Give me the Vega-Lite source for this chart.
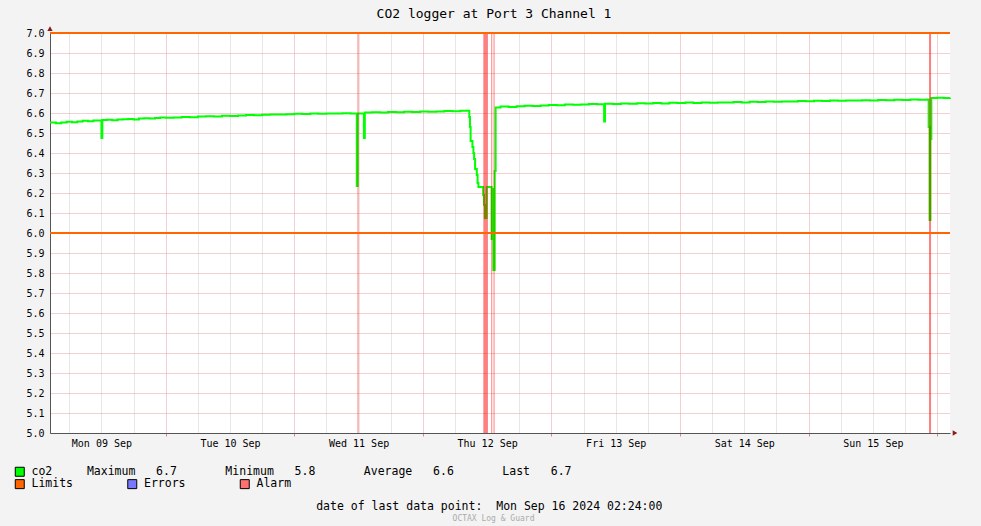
{
  "$schema": "https://vega.github.io/schema/vega-lite/v6.json",
  "width": 900,
  "height": 400,
  "autosize": {"type": "none"},
  "padding": {"left": 50, "top": 33, "right": 31, "bottom": 93},
  "background": "#f3f3f3",
  "title": {"text": "CO2 logger at Port 3 Channel 1", "font": "DejaVu Sans Mono", "fontSize": 13, "fontWeight": "normal", "color": "black", "anchor": "middle", "dx": -6, "offset": -5, "baseline": "alphabetic"},
  "datasets": {
    "co2": [
      {"t": "2024-09-09T02:24:00Z", "v": 6.552}, {"t": "2024-09-09T03:30:00Z", "v": 6.549}, {"t": "2024-09-09T04:30:00Z", "v": 6.553},
      {"t": "2024-09-09T05:30:00Z", "v": 6.556}, {"t": "2024-09-09T06:30:00Z", "v": 6.554}, {"t": "2024-09-09T07:30:00Z", "v": 6.558},
      {"t": "2024-09-09T08:30:00Z", "v": 6.561}, {"t": "2024-09-09T09:30:00Z", "v": 6.559}, {"t": "2024-09-09T10:30:00Z", "v": 6.562},
      {"t": "2024-09-09T11:30:00Z", "v": 6.563}, {"t": "2024-09-09T12:00:00Z", "v": 6.475}, {"t": "2024-09-09T12:10:00Z", "v": 6.565},
      {"t": "2024-09-09T13:00:00Z", "v": 6.566}, {"t": "2024-09-09T14:00:00Z", "v": 6.564}, {"t": "2024-09-09T15:00:00Z", "v": 6.567},
      {"t": "2024-09-09T16:00:00Z", "v": 6.569}, {"t": "2024-09-09T17:00:00Z", "v": 6.570}, {"t": "2024-09-09T18:00:00Z", "v": 6.568},
      {"t": "2024-09-09T19:00:00Z", "v": 6.572}, {"t": "2024-09-09T20:00:00Z", "v": 6.574}, {"t": "2024-09-09T21:00:00Z", "v": 6.573},
      {"t": "2024-09-09T22:00:00Z", "v": 6.575}, {"t": "2024-09-09T23:00:00Z", "v": 6.577},
      {"t": "2024-09-10T00:00:00Z", "v": 6.576}, {"t": "2024-09-10T01:30:00Z", "v": 6.578}, {"t": "2024-09-10T03:00:00Z", "v": 6.580},
      {"t": "2024-09-10T04:30:00Z", "v": 6.579}, {"t": "2024-09-10T06:00:00Z", "v": 6.582}, {"t": "2024-09-10T07:30:00Z", "v": 6.584},
      {"t": "2024-09-10T09:00:00Z", "v": 6.583}, {"t": "2024-09-10T10:30:00Z", "v": 6.586}, {"t": "2024-09-10T12:00:00Z", "v": 6.585},
      {"t": "2024-09-10T13:30:00Z", "v": 6.588}, {"t": "2024-09-10T15:00:00Z", "v": 6.590}, {"t": "2024-09-10T16:30:00Z", "v": 6.589},
      {"t": "2024-09-10T18:00:00Z", "v": 6.591}, {"t": "2024-09-10T19:30:00Z", "v": 6.593}, {"t": "2024-09-10T21:00:00Z", "v": 6.592},
      {"t": "2024-09-10T22:30:00Z", "v": 6.594},
      {"t": "2024-09-11T00:00:00Z", "v": 6.596}, {"t": "2024-09-11T01:30:00Z", "v": 6.595}, {"t": "2024-09-11T03:00:00Z", "v": 6.597},
      {"t": "2024-09-11T04:30:00Z", "v": 6.596}, {"t": "2024-09-11T06:00:00Z", "v": 6.598}, {"t": "2024-09-11T07:30:00Z", "v": 6.597},
      {"t": "2024-09-11T09:00:00Z", "v": 6.599}, {"t": "2024-09-11T10:30:00Z", "v": 6.598}, {"t": "2024-09-11T11:40:00Z", "v": 6.235},
      {"t": "2024-09-11T11:50:00Z", "v": 6.597}, {"t": "2024-09-11T13:00:00Z", "v": 6.475}, {"t": "2024-09-11T13:10:00Z", "v": 6.603},
      {"t": "2024-09-11T14:30:00Z", "v": 6.604}, {"t": "2024-09-11T16:00:00Z", "v": 6.602}, {"t": "2024-09-11T17:30:00Z", "v": 6.605},
      {"t": "2024-09-11T19:00:00Z", "v": 6.604}, {"t": "2024-09-11T20:30:00Z", "v": 6.606}, {"t": "2024-09-11T22:00:00Z", "v": 6.605},
      {"t": "2024-09-11T23:30:00Z", "v": 6.607},
      {"t": "2024-09-12T01:00:00Z", "v": 6.606}, {"t": "2024-09-12T02:30:00Z", "v": 6.608}, {"t": "2024-09-12T04:00:00Z", "v": 6.610},
      {"t": "2024-09-12T05:30:00Z", "v": 6.609}, {"t": "2024-09-12T07:00:00Z", "v": 6.611}, {"t": "2024-09-12T08:40:00Z", "v": 6.58},
      {"t": "2024-09-12T08:48:00Z", "v": 6.53}, {"t": "2024-09-12T08:55:00Z", "v": 6.46}, {"t": "2024-09-12T09:15:00Z", "v": 6.43},
      {"t": "2024-09-12T09:26:00Z", "v": 6.40}, {"t": "2024-09-12T09:34:00Z", "v": 6.37}, {"t": "2024-09-12T09:45:00Z", "v": 6.32},
      {"t": "2024-09-12T10:04:00Z", "v": 6.29}, {"t": "2024-09-12T10:13:00Z", "v": 6.25}, {"t": "2024-09-12T10:22:00Z", "v": 6.23},
      {"t": "2024-09-12T11:15:00Z", "v": 6.19}, {"t": "2024-09-12T11:25:00Z", "v": 6.14}, {"t": "2024-09-12T11:35:00Z", "v": 6.075},
      {"t": "2024-09-12T11:55:00Z", "v": 6.23}, {"t": "2024-09-12T12:50:00Z", "v": 5.97}, {"t": "2024-09-12T13:00:00Z", "v": 6.22},
      {"t": "2024-09-12T13:10:00Z", "v": 5.815}, {"t": "2024-09-12T13:25:00Z", "v": 6.31}, {"t": "2024-09-12T13:35:00Z", "v": 6.628},
      {"t": "2024-09-12T14:30:00Z", "v": 6.632}, {"t": "2024-09-12T16:00:00Z", "v": 6.630}, {"t": "2024-09-12T17:30:00Z", "v": 6.634},
      {"t": "2024-09-12T19:00:00Z", "v": 6.636}, {"t": "2024-09-12T20:30:00Z", "v": 6.635}, {"t": "2024-09-12T22:00:00Z", "v": 6.638},
      {"t": "2024-09-12T23:30:00Z", "v": 6.640},
      {"t": "2024-09-13T01:00:00Z", "v": 6.639}, {"t": "2024-09-13T02:30:00Z", "v": 6.642}, {"t": "2024-09-13T04:00:00Z", "v": 6.641},
      {"t": "2024-09-13T05:30:00Z", "v": 6.643}, {"t": "2024-09-13T07:00:00Z", "v": 6.645}, {"t": "2024-09-13T08:30:00Z", "v": 6.644},
      {"t": "2024-09-13T09:50:00Z", "v": 6.557}, {"t": "2024-09-13T10:00:00Z", "v": 6.646}, {"t": "2024-09-13T11:30:00Z", "v": 6.645},
      {"t": "2024-09-13T13:00:00Z", "v": 6.648}, {"t": "2024-09-13T14:30:00Z", "v": 6.646}, {"t": "2024-09-13T16:00:00Z", "v": 6.649},
      {"t": "2024-09-13T17:30:00Z", "v": 6.648}, {"t": "2024-09-13T19:00:00Z", "v": 6.650}, {"t": "2024-09-13T20:30:00Z", "v": 6.648},
      {"t": "2024-09-13T22:00:00Z", "v": 6.651}, {"t": "2024-09-13T23:30:00Z", "v": 6.650},
      {"t": "2024-09-14T01:00:00Z", "v": 6.652}, {"t": "2024-09-14T02:30:00Z", "v": 6.650}, {"t": "2024-09-14T04:00:00Z", "v": 6.652},
      {"t": "2024-09-14T05:30:00Z", "v": 6.651}, {"t": "2024-09-14T07:00:00Z", "v": 6.653}, {"t": "2024-09-14T08:30:00Z", "v": 6.652},
      {"t": "2024-09-14T10:00:00Z", "v": 6.655}, {"t": "2024-09-14T11:30:00Z", "v": 6.653}, {"t": "2024-09-14T13:00:00Z", "v": 6.656},
      {"t": "2024-09-14T14:30:00Z", "v": 6.655}, {"t": "2024-09-14T16:00:00Z", "v": 6.657}, {"t": "2024-09-14T17:30:00Z", "v": 6.656},
      {"t": "2024-09-14T19:00:00Z", "v": 6.658}, {"t": "2024-09-14T20:30:00Z", "v": 6.657}, {"t": "2024-09-14T22:00:00Z", "v": 6.660},
      {"t": "2024-09-14T23:30:00Z", "v": 6.659},
      {"t": "2024-09-15T01:00:00Z", "v": 6.661}, {"t": "2024-09-15T02:30:00Z", "v": 6.660}, {"t": "2024-09-15T04:00:00Z", "v": 6.662},
      {"t": "2024-09-15T05:30:00Z", "v": 6.661}, {"t": "2024-09-15T07:00:00Z", "v": 6.663}, {"t": "2024-09-15T08:30:00Z", "v": 6.662},
      {"t": "2024-09-15T10:00:00Z", "v": 6.664}, {"t": "2024-09-15T11:30:00Z", "v": 6.663}, {"t": "2024-09-15T13:00:00Z", "v": 6.665},
      {"t": "2024-09-15T14:30:00Z", "v": 6.664}, {"t": "2024-09-15T16:00:00Z", "v": 6.666}, {"t": "2024-09-15T17:30:00Z", "v": 6.665},
      {"t": "2024-09-15T19:00:00Z", "v": 6.667}, {"t": "2024-09-15T20:30:00Z", "v": 6.666}, {"t": "2024-09-15T22:15:00Z", "v": 6.668},
      {"t": "2024-09-15T22:25:00Z", "v": 6.53}, {"t": "2024-09-15T22:35:00Z", "v": 6.065}, {"t": "2024-09-15T22:45:00Z", "v": 6.47},
      {"t": "2024-09-15T22:55:00Z", "v": 6.675},
      {"t": "2024-09-16T00:00:00Z", "v": 6.676}, {"t": "2024-09-16T01:15:00Z", "v": 6.675}, {"t": "2024-09-16T02:24:00Z", "v": 6.676}
    ],
    "alarm": [
      {"t": "2024-09-11T11:48:00Z", "t2": "2024-09-11T12:00:00Z", "v": 5, "v2": 7},
      {"t": "2024-09-12T11:17:00Z", "t2": "2024-09-12T12:07:00Z", "v": 5, "v2": 7},
      {"t": "2024-09-12T12:46:00Z", "t2": "2024-09-12T12:57:00Z", "v": 5, "v2": 7},
      {"t": "2024-09-12T13:12:00Z", "t2": "2024-09-12T13:23:00Z", "v": 5, "v2": 7},
      {"t": "2024-09-15T22:29:00Z", "t2": "2024-09-15T22:52:00Z", "v": 5, "v2": 7}
    ],
    "limits": [
      {"t": "2024-09-09T02:24:00Z", "t2": "2024-09-16T02:24:00Z", "v": 6.0},
      {"t": "2024-09-09T02:24:00Z", "t2": "2024-09-16T02:24:00Z", "v": 7.0}
    ],
    "yarrow": [{"t": "2024-09-09T02:24:00Z", "v": 7.022}],
    "xarrow": [{"t": "2024-09-16T03:20:00Z", "v": 5.0}]
  },
  "encoding": {
    "x": {
      "field": "t", "type": "temporal",
      "scale": {"type": "utc", "domain": [1725848640000, 1726453440000]},
      "axis": {
        "values": [1725861600000, 1725883200000, 1725904800000, 1725926400000, 1725948000000, 1725969600000, 1725991200000, 1726012800000, 1726034400000, 1726056000000, 1726077600000, 1726099200000, 1726120800000, 1726142400000, 1726164000000, 1726185600000, 1726207200000, 1726228800000, 1726250400000, 1726272000000, 1726293600000, 1726315200000, 1726336800000, 1726358400000, 1726380000000, 1726401600000, 1726423200000, 1726444800000],
        "labelExpr": "utchours(datum.value) == 12 ? utcFormat(datum.value, '%a %d %b') : ''",
        "labelOverlap": false,
        "labelBound": false,
        "labelFlush": false,
        "labelFont": "DejaVu Sans Mono", "labelFontSize": 10, "labelColor": "black", "labelPadding": 2,
        "tickSize": 3,
        "tickColor": {"condition": {"test": "utchours(datum.value) == 0", "value": "#dd8888"}, "value": "rgba(0,0,0,0)"},
        "grid": true,
        "gridColor": {"condition": {"test": "utchours(datum.value) == 0", "value": "#e3a3a3"}, "value": "#cfcfcf"},
        "gridDash": [1, 1],
        "domainColor": "#555555",
        "title": "date of last data point:\u00a0\u00a0Mon Sep 16 2024 02:24:00",
        "titleFont": "DejaVu Sans Mono", "titleFontSize": 11.5, "titleFontWeight": "normal", "titleColor": "black",
        "titleX": 265.7, "titleY": 76, "titleAlign": "left", "titleAnchor": "start", "titleBaseline": "alphabetic"
      }
    },
    "y": {
      "field": "v", "type": "quantitative",
      "scale": {"domain": [5, 7], "nice": false, "zero": false},
      "axis": {
        "values": [5.0, 5.1, 5.2, 5.3, 5.4, 5.5, 5.6, 5.7, 5.8, 5.9, 6.0, 6.1, 6.2, 6.3, 6.4, 6.5, 6.6, 6.7, 6.8, 6.9, 7.0],
        "format": ".1f",
        "labelOverlap": false,
        "labelFont": "DejaVu Sans Mono", "labelFontSize": 10, "labelColor": "black", "labelPadding": 6,
        "ticks": false,
        "grid": true, "gridColor": "#e3a3a3", "gridDash": [1, 1],
        "domainColor": "#555555",
        "title": "OCTAX Log & Guard",
        "titleFont": "DejaVu Sans Mono", "titleFontSize": 8, "titleFontWeight": "normal", "titleColor": "#aaaaaa",
        "titleAngle": 0, "titleX": 443, "titleY": 487, "titleAlign": "center", "titleBaseline": "alphabetic"
      }
    }
  },
  "layer": [
    {
      "data": {"name": "co2"},
      "mark": {"type": "line", "interpolate": "step-after", "color": "#00ff00", "strokeWidth": 2}
    },
    {
      "data": {"name": "alarm"},
      "mark": {"type": "rect", "color": "#ff0000", "opacity": 0.5},
      "encoding": {
        "x2": {"field": "t2"},
        "y2": {"field": "v2"}
      }
    },
    {
      "data": {"name": "limits"},
      "mark": {"type": "rule", "color": "#ff6600", "strokeWidth": 2},
      "encoding": {
        "x2": {"field": "t2"}
      }
    },
    {
      "data": {"name": "yarrow"},
      "mark": {"type": "point", "shape": "triangle-up", "filled": true, "color": "#8b1a1a", "size": 28, "opacity": 1}
    },
    {
      "data": {"name": "xarrow"},
      "mark": {"type": "point", "shape": "triangle-right", "filled": true, "color": "#8b1a1a", "size": 28, "opacity": 1}
    },
    {
      "data": {"values": [{"leg": "co2"}]},
      "mark": {"type": "square", "opacity": 0},
      "encoding": {
        "color": {
          "field": "leg", "type": "nominal",
          "scale": {"domain": ["co2"], "range": ["#00ff00"]},
          "legend": {
            "orient": "none", "legendX": -36, "legendY": 433, "title": null,
            "labelExpr": "'co2\u00a0\u00a0\u00a0\u00a0\u00a0Maximum\u00a0\u00a0\u00a06.7\u00a0\u00a0\u00a0\u00a0\u00a0\u00a0\u00a0Minimum\u00a0\u00a0\u00a05.8\u00a0\u00a0\u00a0\u00a0\u00a0\u00a0\u00a0Average\u00a0\u00a0\u00a06.6\u00a0\u00a0\u00a0\u00a0\u00a0\u00a0\u00a0Last\u00a0\u00a0\u00a06.7'"
          }
        }
      }
    },
    {
      "data": {"values": [{"leg": "Limits"}, {"leg": "Errors"}, {"leg": "Alarm"}]},
      "mark": {"type": "square", "opacity": 0},
      "encoding": {
        "fill": {
          "field": "leg", "type": "nominal",
          "scale": {"domain": ["Limits", "Errors", "Alarm"], "range": ["#ff6600", "#7878ff", "#ff7070"]},
          "legend": {
            "orient": "none", "legendX": -36, "legendY": 445, "title": null,
            "columns": 3, "direction": "horizontal", "columnPadding": 51.5
          }
        }
      }
    }
  ],
  "config": {
    "view": {"stroke": null, "fill": "white"},
    "legend": {
      "symbolType": "square", "symbolSize": 81, "symbolStrokeColor": "black", "symbolStrokeWidth": 1, "symbolOpacity": 1,
      "labelFont": "DejaVu Sans Mono", "labelFontSize": 11.5, "labelColor": "black", "labelOffset": 6, "labelLimit": 2000,
      "padding": 0, "rowPadding": 2
    }
  }
}
